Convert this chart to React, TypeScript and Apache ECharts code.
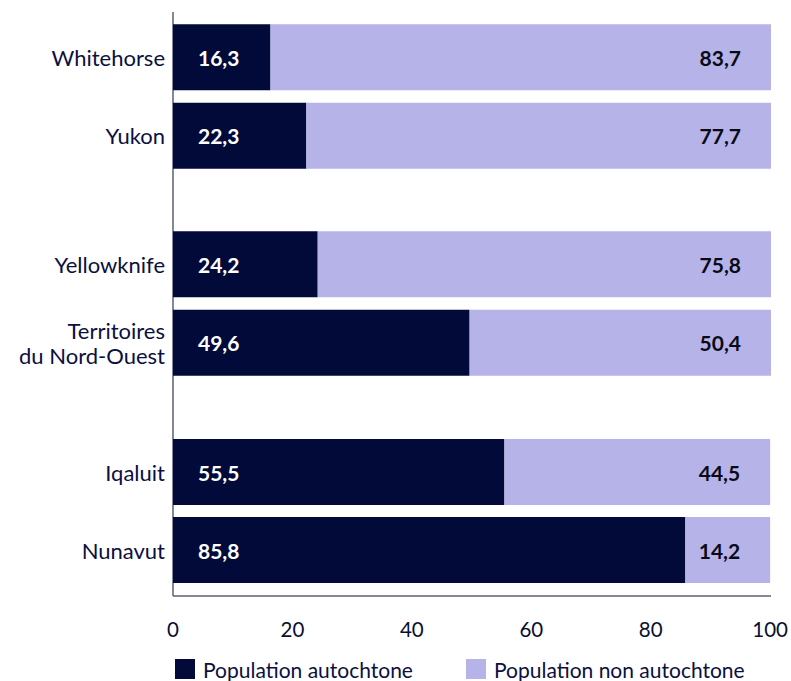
import React, { useEffect, useRef } from "react";
import * as echarts from "echarts";

const groupCategories: string[][] = [
  ["Whitehorse", "Yukon"],
  ["Yellowknife", "Territoires\ndu Nord-Ouest"],
  ["Iqaluit", "Nunavut"],
];
const autochtone: number[][] = [
  [16.3, 22.3],
  [24.2, 49.6],
  [55.5, 85.8],
];
const nonAutochtone: number[][] = [
  [83.7, 77.7],
  [75.8, 50.4],
  [44.5, 14.2],
];
const xTicks = { min: 0, max: 100, interval: 20 };
const seriesNames = ["Population autochtone", "Population non autochtone"];

const DARK = "#020a3a";
const LIGHT = "#b6b3e9";
const AXIS = "#5c6078";
const FONT = "Lato, 'Open Sans', sans-serif";

const gridTops = [18, 225, 433];
const gridHeights = [157, 157, 156];

export default function App() {
  const ref = useRef<HTMLDivElement>(null);
  useEffect(() => {
    if (!ref.current) return;
    const chart = echarts.init(ref.current, undefined, { renderer: "svg" });
    const fmt = (p: any) => Number(p.value).toFixed(1).replace(".", ",");
    const grids = gridTops.map((t, i) => ({ left: 173, right: 20, top: t, height: gridHeights[i] }));
    const xAxes = grids.map((_, i) => ({
      type: "value",
      gridIndex: i,
      min: xTicks.min,
      max: xTicks.max,
      interval: xTicks.interval,
      axisLine: { show: false },
      axisTick: { show: false },
      splitLine: { show: false },
      axisLabel: {
        show: i === 2,
        margin: 29,
        fontFamily: FONT,
        fontSize: 20.5,
        color: "#0b0f2e",
      },
    }));
    const yAxes = grids.map((_, i) => ({
      type: "category",
      gridIndex: i,
      inverse: true,
      data: groupCategories[i],
      axisLine: { show: false },
      axisTick: { show: false },
      axisLabel: {
        margin: 8,
        fontFamily: FONT,
        fontSize: 22,
        lineHeight: 25,
        color: "#0b1040",
        align: "right",
      },
    }));
    const series: any[] = [];
    grids.forEach((_, i) => {
      series.push({
        name: seriesNames[0],
        type: "bar",
        stack: "total" + i,
        xAxisIndex: i,
        yAxisIndex: i,
        barWidth: 66,
        itemStyle: { color: DARK },
        label: {
          show: true,
          position: "insideLeft",
          distance: 25,
          formatter: fmt,
          color: "#ffffff",
          fontFamily: FONT,
          fontWeight: "bold",
          fontSize: 21,
        },
        data: autochtone[i],
      });
      series.push({
        name: seriesNames[1],
        type: "bar",
        stack: "total" + i,
        xAxisIndex: i,
        yAxisIndex: i,
        barWidth: 66,
        itemStyle: { color: LIGHT },
        label: {
          show: true,
          position: "insideRight",
          distance: 30,
          formatter: fmt,
          color: "#0a0a14",
          fontFamily: FONT,
          fontWeight: "bold",
          fontSize: 21,
        },
        data: nonAutochtone[i],
      });
    });
    const legendText = { fontFamily: FONT, fontSize: 21, lineHeight: 22, color: "#0b1040", padding: [0, 0, 0, 3] };
    chart.setOption({
      animation: false,
      grid: grids,
      xAxis: xAxes,
      yAxis: yAxes,
      series,
      legend: [
        {
          data: [seriesNames[0]],
          left: 175,
          top: 658,
          padding: 0,
          icon: "rect",
          itemWidth: 20,
          itemHeight: 20,
          textStyle: legendText,
        },
        {
          data: [seriesNames[1]],
          left: 466,
          top: 658,
          padding: 0,
          icon: "rect",
          itemWidth: 20,
          itemHeight: 20,
          textStyle: legendText,
        },
      ],
      graphic: [
        {
          type: "line",
          shape: { x1: 173, y1: 12, x2: 173, y2: 596 },
          style: { stroke: AXIS, lineWidth: 1.5 },
        },
        {
          type: "line",
          shape: { x1: 173, y1: 596, x2: 771, y2: 596 },
          style: { stroke: AXIS, lineWidth: 1.5 },
        },
      ],
    });
    return () => chart.dispose();
  }, []);
  return (
    <div
      ref={ref}
      style={{ position: "absolute", left: 0, top: 0, width: 791, height: 681 }}
    />
  );
}
